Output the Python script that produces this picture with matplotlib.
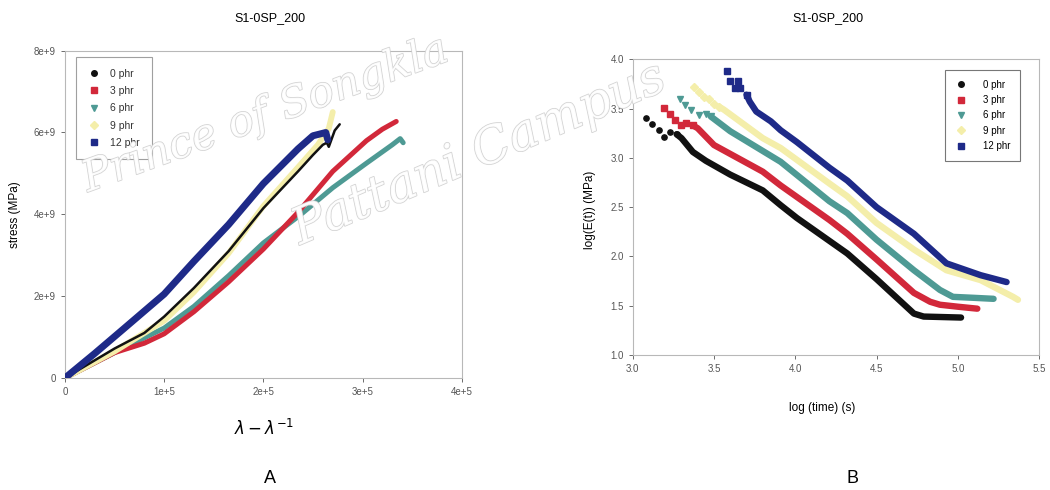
import matplotlib
matplotlib.use("Agg")
import matplotlib.pyplot as plt
import matplotlib.patheffects as pe
from matplotlib.lines import Line2D

plt.rcParams.update({
    "font.family": ["Liberation Sans", "DejaVu Sans"],
    "font.size": 8,
    "axes.linewidth": 0.8,
})

# ------------------------------------------------------------
# Panel A: stress vs (lambda - lambda^-1)
# ------------------------------------------------------------
strain_0 = [0, 0.5e5, 0.8e5, 1.0e5, 1.3e5, 1.65e5, 2.0e5, 2.35e5, 2.5e5, 2.6e5, 2.64e5, 2.66e5, 2.72e5, 2.77e5]
stress_0 = [0, 0.72e9, 1.1e9, 1.5e9, 2.2e9, 3.1e9, 4.15e9, 5.05e9, 5.45e9, 5.7e9, 5.75e9, 5.65e9, 6.05e9, 6.2e9]

strain_3 = [0, 0.5e5, 0.8e5, 1.0e5, 1.3e5, 1.65e5, 2.0e5, 2.35e5, 2.7e5, 3.04e5, 3.2e5, 3.34e5]
stress_3 = [0, 0.62e9, 0.85e9, 1.08e9, 1.62e9, 2.35e9, 3.15e9, 4.05e9, 5.05e9, 5.8e9, 6.08e9, 6.27e9]

strain_6 = [0, 0.5e5, 1.0e5, 1.3e5, 1.65e5, 2.0e5, 2.37e5, 2.7e5, 3.04e5, 3.3e5, 3.38e5, 3.41e5]
stress_6 = [0, 0.62e9, 1.22e9, 1.75e9, 2.5e9, 3.3e9, 3.98e9, 4.65e9, 5.25e9, 5.7e9, 5.85e9, 5.75e9]

strain_9 = [0, 0.5e5, 1.0e5, 1.3e5, 1.65e5, 2.0e5, 2.35e5, 2.55e5, 2.66e5, 2.70e5]
stress_9 = [0, 0.65e9, 1.4e9, 2.1e9, 3.05e9, 4.2e9, 5.15e9, 5.7e9, 6.1e9, 6.5e9]

strain_12 = [0, 0.3e5, 0.6e5, 1.0e5, 1.3e5, 1.65e5, 2.0e5, 2.35e5, 2.5e5, 2.63e5, 2.65e5]
stress_12 = [0, 0.6e9, 1.22e9, 2.05e9, 2.85e9, 3.75e9, 4.75e9, 5.6e9, 5.92e9, 6.0e9, 5.82e9]

xticks_a = [0, 1e5, 2e5, 3e5, 4e5]
xtick_labels_a = ["0", "1e+5", "2e+5", "3e+5", "4e+5"]
yticks_a = [0, 2e9, 4e9, 6e9, 8e9]
ytick_labels_a = ["0", "2e+9", "4e+9", "6e+9", "8e+9"]

# ------------------------------------------------------------
# Panel B: log E(t) vs log time (first points are sparse markers)
# ------------------------------------------------------------
logt_0 = [3.08, 3.12, 3.16, 3.19, 3.23, 3.27, 3.30, 3.37, 3.45, 3.60, 3.80, 3.91, 4.01, 4.32, 4.50, 4.73, 4.79, 5.02]
logE_0 = [3.40, 3.34, 3.28, 3.21, 3.26, 3.24, 3.20, 3.06, 2.97, 2.83, 2.67, 2.52, 2.39, 2.03, 1.77, 1.42, 1.39, 1.38]

logt_3 = [3.19, 3.23, 3.26, 3.30, 3.33, 3.37, 3.40, 3.50, 3.80, 3.91, 4.21, 4.32, 4.50, 4.73, 4.83, 4.89, 5.00, 5.12]
logE_3 = [3.51, 3.44, 3.38, 3.33, 3.35, 3.33, 3.30, 3.13, 2.86, 2.72, 2.37, 2.23, 1.97, 1.63, 1.54, 1.51, 1.49, 1.47]

logt_6 = [3.29, 3.32, 3.36, 3.41, 3.45, 3.48, 3.52, 3.60, 3.80, 3.91, 4.21, 4.32, 4.50, 4.73, 4.89, 4.97, 5.10, 5.22]
logE_6 = [3.60, 3.54, 3.49, 3.43, 3.44, 3.42, 3.37, 3.27, 3.07, 2.96, 2.56, 2.44, 2.17, 1.86, 1.66, 1.59, 1.58, 1.57]

logt_9 = [3.38, 3.41, 3.44, 3.47, 3.50, 3.53, 3.56, 3.80, 3.91, 4.21, 4.32, 4.50, 4.73, 4.93, 5.14, 5.34, 5.37]
logE_9 = [3.72, 3.67, 3.62, 3.60, 3.55, 3.52, 3.49, 3.20, 3.10, 2.74, 2.61, 2.34, 2.07, 1.86, 1.76, 1.59, 1.56]

logt_12 = [3.58, 3.60, 3.63, 3.65, 3.66, 3.70, 3.72, 3.76, 3.85, 3.91, 4.01, 4.21, 4.32, 4.50, 4.73, 4.93, 5.14, 5.30]
logE_12 = [3.88, 3.78, 3.71, 3.78, 3.71, 3.64, 3.57, 3.47, 3.37, 3.28, 3.16, 2.90, 2.77, 2.50, 2.23, 1.93, 1.81, 1.74]

n_sparse = [6, 6, 6, 6, 6]

labels = ["0 phr", "3 phr", "6 phr", "9 phr", "12 phr"]
colors = ["#111111", "#d2283a", "#4e9a94", "#f4eeaa", "#1e2a88"]
markers = ["o", "s", "v", "D", "s"]

title = "S1-0SP_200"

fig = plt.figure(figsize=(10.5, 4.9), dpi=100)
ax_a = fig.add_axes([0.0619, 0.2286, 0.3778, 0.668])
ax_b = fig.add_axes([0.6026, 0.2755, 0.387, 0.6035])

# --- panel A curves
ax_a.plot(strain_6, stress_6, color=colors[2], lw=3.6, solid_capstyle="round", zorder=2)
ax_a.plot(strain_3, stress_3, color=colors[1], lw=3.6, solid_capstyle="round", zorder=3)
ax_a.plot(strain_9, stress_9, color=colors[3], lw=4.2, solid_capstyle="round", zorder=4)
ax_a.plot(strain_0, stress_0, color=colors[0], lw=1.8, solid_capstyle="round", zorder=5)
ax_a.plot(strain_12, stress_12, color=colors[4], lw=5.0, solid_capstyle="round", zorder=6)

ax_a.set_xlim(0, 4e5)
ax_a.set_ylim(0, 8e9)
ax_a.set_xticks(xticks_a)
ax_a.set_xticklabels(xtick_labels_a)
ax_a.set_yticks(yticks_a)
ax_a.set_yticklabels(ytick_labels_a)

# --- panel B curves
series_b = [(logt_0, logE_0), (logt_3, logE_3), (logt_6, logE_6), (logt_9, logE_9), (logt_12, logE_12)]
for (t, e), c, m, k in zip(series_b, colors, markers, n_sparse):
    ax_b.plot(t[:k], e[:k], ls="none", marker=m, ms=3.8, color=c, mec=c, zorder=3)
    ax_b.plot(t[k - 1:], e[k - 1:], color=c, lw=4.6, solid_capstyle="round", zorder=3)

ax_b.set_xlim(3.0, 5.5)
ax_b.set_ylim(1.0, 4.0)
ax_b.set_xticks([3.0, 3.5, 4.0, 4.5, 5.0, 5.5])
ax_b.set_yticks([1.0, 1.5, 2.0, 2.5, 3.0, 3.5, 4.0])
ax_b.xaxis.set_major_formatter(plt.FormatStrFormatter("%.1f"))
ax_b.yaxis.set_major_formatter(plt.FormatStrFormatter("%.1f"))

for ax in (ax_a, ax_b):
    for side in ax.spines:
        ax.spines[side].set_color("#b8b8b8")
    ax.tick_params(labelsize=7, colors="#555555", length=3, width=0.6)

# --- legends
handles = [Line2D([], [], ls="none", marker=m, ms=4, color=c, mec=c) for m, c in zip(markers, colors)]
leg_a = ax_a.legend(handles, labels, loc="upper left", bbox_to_anchor=(0.028, 0.98),
                    borderaxespad=0, fontsize=7.5, frameon=True, fancybox=False,
                    handlelength=1.2, handletextpad=1.0, labelspacing=0.7, borderpad=1.1)
leg_a.get_frame().set_edgecolor("#888888")
leg_a.get_frame().set_linewidth(0.8)
for txt in leg_a.get_texts():
    txt.set_color("#333333")

leg_b = ax_b.legend(handles, labels, loc="upper left", bbox_to_anchor=(0.769, 0.964),
                    borderaxespad=0, fontsize=7, frameon=True, fancybox=False,
                    handlelength=1.2, handletextpad=1.7, labelspacing=0.55, borderpad=1.0)
leg_b.get_frame().set_edgecolor("#555555")
leg_b.get_frame().set_linewidth(0.8)

# --- titles and axis labels
fig.text(0.257, 0.963, title, ha="center", va="center", fontsize=9)
fig.text(0.789, 0.963, title, ha="center", va="center", fontsize=9)
fig.text(0.0143, 0.561, "stress (MPa)", rotation=90, ha="center", va="center", fontsize=8.5)
fig.text(0.562, 0.571, "log(E(t)) (MPa)", rotation=90, ha="center", va="center", fontsize=8.5)
fig.text(0.252, 0.127, r"$\lambda - \lambda^{-1}$", ha="center", va="center", fontsize=12)
fig.text(0.783, 0.167, "log (time) (s)", ha="center", va="center", fontsize=8.5)
fig.text(0.257, 0.024, "A", ha="center", va="center", fontsize=13)
fig.text(0.812, 0.024, "B", ha="center", va="center", fontsize=13)

# --- outlined watermark
halo = [pe.withStroke(linewidth=1.1, foreground="#cdcdcd")]
fig.text(88 / 1050, 1 - 192 / 490, "Prince of Songkla", rotation=20,
         rotation_mode="anchor", ha="left", va="baseline", fontsize=31,
         family="DejaVu Serif", style="italic", color="white", alpha=0.9,
         path_effects=halo, zorder=10)
fig.text(300 / 1050, 1 - 245 / 490, "Pattani Campus", rotation=23,
         rotation_mode="anchor", ha="left", va="baseline", fontsize=36,
         family="DejaVu Serif", style="italic", color="white", alpha=0.9,
         path_effects=halo, zorder=10)

fig.savefig("out.png", dpi=100, facecolor="white")
